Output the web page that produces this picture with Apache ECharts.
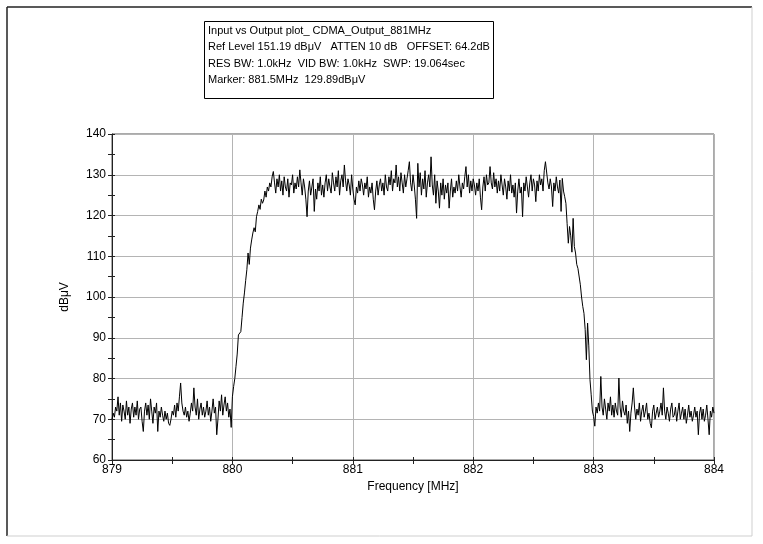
<!DOCTYPE html>
<html>
<head>
<meta charset="utf-8">
<script src="https://cdn.jsdelivr.net/npm/echarts@6/dist/echarts.min.js"></script>
<style>
html,body{margin:0;padding:0;background:#fff;}
#chart{width:763px;height:544px;}
</style>
</head>
<body>
<div id="chart"></div>
<script>
// ---- data ----
var infoLines = [
  'Input vs Output plot_ CDMA_Output_881MHz',
  'Ref Level 151.19 dB\u03bcV   ATTEN 10 dB   OFFSET: 64.2dB',
  'RES BW: 1.0kHz  VID BW: 1.0kHz  SWP: 19.064sec',
  'Marker: 881.5MHz  129.89dB\u03bcV'
];
var xTicks = [879, 880, 881, 882, 883, 884];
var yTicks = [60, 70, 80, 90, 100, 110, 120, 130, 140];
var freqStart = 879.0;
var freqStop = 884.0;

var lowLeft = [
  70, 71.5, 70.5, 73, 72, 75.5, 71, 74, 69.5, 73.5, 72, 70, 74.5, 71, 73, 69, 72.5, 74, 70.5, 73,
  71, 74.5, 70, 72.5, 73, 69.5, 67, 72, 74, 71, 73.5, 70, 75, 72, 69, 73, 71.5, 74, 67, 72,
  70.5, 73, 71, 69.5, 72, 70, 71.5, 69, 68.5, 70, 72, 71, 73.5, 70.5, 74, 72, 75.5, 78.9, 74, 72,
  71, 73, 70.5, 72, 69.5, 71.5, 74, 72, 77.7, 73, 71, 75, 70, 72.5, 74, 71, 73, 70.5, 72, 74.5,
  71, 73, 69.5, 72, 75, 71.5, 73, 66.2, 70, 74.5, 72, 76, 71, 73.5, 75.5, 72, 74, 70.5, 72.5, 68,
  75.5
];
var riseEdge = [
  78, 80, 83, 86, 90.7, 91, 91.5, 95, 98.5, 101, 104, 106.7, 110.8, 108, 112, 114, 115.7, 117, 116, 119.7,
  121, 122.6, 121.5, 124, 123, 123.8, 126, 124.5, 127, 126, 128, 127, 129.5, 130.8
];
var plateau = [
  128, 125.5, 129, 127, 130, 126, 128.5, 125, 129.5, 127,
  126, 129, 124.5, 128, 127.5, 130, 125.5, 128, 126.5, 129.5,
  127, 131.2, 128, 125, 129, 127, 124, 119.7, 126, 128.5,
  125, 127, 129, 121, 126.5, 124, 128, 126, 129.5, 125,
  127.5, 124.5, 128, 130, 126, 129, 127, 125.5, 130.5, 128,
  126, 129.5, 127, 131, 125, 128.5, 130, 127, 132.4, 128.5,
  126, 129, 127.5, 125, 130, 126.5, 124, 122.6, 127, 125.5,
  128.5, 126, 129, 127.5, 125, 128, 126.5, 129.5, 124.5, 127,
  125.5, 128, 124, 121.4, 126, 128.5, 125, 127.5, 129, 126,
  128, 125, 130, 127, 126, 129.5, 127.5, 131, 126, 129,
  128, 132.4, 127, 129.5, 126, 130.5, 128, 125.5, 130, 127,
  129, 131, 133.2, 128, 126, 130, 127.5, 124, 119.3, 132.8,
  127, 130.5, 125, 129, 126.5, 131, 124.5, 128, 130, 127,
  134.4, 127.5, 125, 130, 123, 128.5, 126, 121.8, 128, 125,
  129, 124, 127.5, 125.5, 128, 121.8, 126, 129, 124.5, 127,
  125.5, 128.5, 126, 130, 127, 124.5, 128, 126.5, 129.5, 132,
  127, 130, 125.5, 128.5, 126, 129, 127.5, 125, 128, 126,
  129, 124.5, 121.4, 127, 129.5, 126, 130, 127.5, 128, 132,
  128, 126.5, 130.5, 127, 129, 125.5, 128.5, 126, 130, 127.5,
  125, 129, 127, 124, 128.5, 126, 130, 125.5, 127.5, 124.5,
  128, 120.6, 126, 129, 125.5, 127, 119.7, 128, 126, 129.5,
  127, 124.5, 128, 130, 126, 129, 127.5, 123.4, 128.5, 126,
  130, 127.5, 129, 126, 131, 133.2, 132.8, 128, 126.5, 129,
  127, 122.2, 128, 126, 129.5, 127, 125.5, 128.7, 121
];
var fallEdge = [
  129.1, 126, 124.6, 123, 118, 113.2, 117.3, 115, 111, 119.3, 112.4, 110.8, 108, 107, 106.7, 103, 100, 97.7, 96, 92,
  84.6, 93.6, 88, 79.7, 76, 72, 70.7, 68.3, 73
];
var lowRight = [
  71.5, 74, 72, 80.5, 73, 71, 75, 72.5, 70, 74,
  72, 75.5, 71, 73.5, 70.5, 74, 72, 71, 80.1, 73,
  70.5, 74.5, 72, 71, 73.5, 69, 72, 67, 71.5, 74,
  77.7, 73, 70, 72.5, 71, 74, 69.5, 72, 73.5, 70.5,
  72, 74, 70, 71.5, 69, 67.9, 72, 73.5, 70, 71.5,
  73, 70.5, 72, 74, 71, 77.7, 72, 70, 73, 71.5,
  69.5, 72.5, 74, 70.5, 71, 73, 69.5, 72, 74, 70,
  71.5, 73, 70, 72.5, 69, 71, 73.5, 70.5, 72, 69.5,
  71, 73, 70.5, 72, 66.2, 71.5, 73, 70, 72.5, 69.5,
  71, 73.5, 70, 66.2, 72, 70.5, 73, 71.5
];

// ---- build ----
var levels = [].concat(lowLeft, riseEdge, plateau, fallEdge, lowRight);
var step = (freqStop - freqStart) / (levels.length - 1);
var trace = levels.map(function (v, i) { return [freqStart + i * step, v]; });

var FONT = 'Liberation Sans, Arial, sans-serif';
var chart = echarts.init(document.getElementById('chart'), null, {renderer: 'canvas'});

var infoGraphics = infoLines.map(function (t, i) {
  return {
    type: 'text', left: 208, top: 25 + i * 16.5,
    style: {text: t, font: '11px ' + FONT, fill: '#000'}
  };
});

var option = {
  animation: false,
  backgroundColor: '#fff',
  grid: {left: 112, right: 49, top: 134, bottom: 84, show: true, borderColor: '#555', borderWidth: 1},
  xAxis: [{
    type: 'value', min: xTicks[0], max: xTicks[xTicks.length - 1], interval: 1,
    name: 'Frequency [MHz]', nameLocation: 'middle', nameGap: 16,
    nameTextStyle: {fontFamily: FONT, fontSize: 12, color: '#000'},
    axisLine: {lineStyle: {color: '#222', width: 1}},
    axisTick: {show: true, inside: false, length: 4, lineStyle: {color: '#222'}},
    minorTick: {show: true, splitNumber: 2, length: 4, lineStyle: {color: '#222'}},
    axisLabel: {fontFamily: FONT, fontSize: 12, color: '#000', margin: 4},
    splitLine: {show: true, lineStyle: {color: '#b4b4b4', width: 1}}
  }, {
    type: 'value', min: xTicks[0], max: xTicks[xTicks.length - 1], interval: 1, position: 'bottom',
    axisLine: {show: false},
    axisTick: {show: true, inside: true, length: 3, lineStyle: {color: '#222'}},
    minorTick: {show: true, splitNumber: 2, length: 3, lineStyle: {color: '#222'}},
    axisLabel: {show: false}, splitLine: {show: false}
  }],
  yAxis: [{
    type: 'value', min: yTicks[0], max: yTicks[yTicks.length - 1], interval: 10,
    name: 'dB\u03bcV', nameLocation: 'middle', nameGap: 41,
    nameTextStyle: {fontFamily: FONT, fontSize: 12, color: '#000'},
    axisLine: {show: true, lineStyle: {color: '#222', width: 1}},
    axisTick: {show: true, inside: false, length: 4, lineStyle: {color: '#222'}},
    minorTick: {show: true, splitNumber: 2, length: 4, lineStyle: {color: '#222'}},
    axisLabel: {fontFamily: FONT, fontSize: 12, color: '#000', margin: 6},
    splitLine: {show: true, lineStyle: {color: '#b4b4b4', width: 1}}
  }, {
    type: 'value', min: yTicks[0], max: yTicks[yTicks.length - 1], interval: 10, position: 'left',
    axisLine: {show: false},
    axisTick: {show: true, inside: true, length: 3, lineStyle: {color: '#222'}},
    minorTick: {show: true, splitNumber: 2, length: 3, lineStyle: {color: '#222'}},
    axisLabel: {show: false}, splitLine: {show: false}
  }],
  series: [{
    type: 'line', xAxisIndex: 0, yAxisIndex: 0, data: trace,
    showSymbol: false, symbol: 'none',
    lineStyle: {color: '#000', width: 1}
  }],
  graphic: [
    {type: 'line', shape: {x1: 7, y1: 7, x2: 752, y2: 7}, style: {stroke: '#222', lineWidth: 1.5}},
    {type: 'line', shape: {x1: 7, y1: 7, x2: 7, y2: 536}, style: {stroke: '#222', lineWidth: 1.5}},
    {type: 'line', shape: {x1: 752, y1: 7, x2: 752, y2: 536}, style: {stroke: '#cfcfcf', lineWidth: 1}},
    {type: 'line', shape: {x1: 7, y1: 536, x2: 752, y2: 536}, style: {stroke: '#cfcfcf', lineWidth: 1}},
    {type: 'rect', shape: {x: 204.5, y: 21.5, width: 289, height: 77}, style: {fill: '#fff', stroke: '#000', lineWidth: 1}}
  ].concat(infoGraphics)
};
chart.setOption(option);
</script>
</body>
</html>
